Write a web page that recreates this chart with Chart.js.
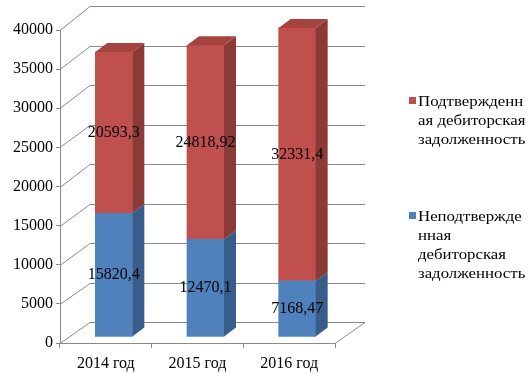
<!DOCTYPE html>
<html><head><meta charset="utf-8"><script src="https://cdn.jsdelivr.net/npm/chart.js@4"></script></head>
<body style="margin:0;background:#fff">
<canvas id="c" width="532" height="374"></canvas>
<script>
const categories = ['2014 год', '2015 год', '2016 год'];
const unconfirmed = [15820.4, 12470.1, 7168.47];
const confirmed = [20593.3, 24818.92, 32331.4];
const seriesNames = ['Неподтвержденная дебиторская задолженность', 'Подтвержденная дебиторская задолженность'];
const legendLines = [
  ['Подтвержденн', 'ая дебиторская', 'задолженность'],
  ['Неподтвержде', 'нная', 'дебиторская', 'задолженность']
];
const yTicks = [0, 5000, 10000, 15000, 20000, 25000, 30000, 35000, 40000];

const FRONT = ['#4F81BD', '#C0504D'];
const SIDE = ['#385D8A', '#8C3A37'];
const TOPC = ['#4572A7', '#A5433F'];
const GRID = '#8A8A8A';
const SERIF = "'Liberation Serif', serif";

const shift = {x: 8, y: -6};
const bar3d = {x: 12, y: -9};
const wall = {x: 30, yTop: -24, yBot: -21};

function fmt(v) { return String(v).replace('.', ','); }

const threeD = {
  id: 'threeD',
  beforeDatasetsDraw(chart) {
    const ctx = chart.ctx, ys = chart.scales.y, a = chart.chartArea;
    const bt = a.top + wall.yTop, bb = a.bottom + wall.yBot;
    const backY = v => bb + (ys.getPixelForValue(v) - a.bottom) * (bb - bt) / (a.bottom - a.top);
    ctx.save();
    ctx.strokeStyle = GRID;
    ctx.lineWidth = 1;
    ctx.beginPath();
    yTicks.forEach(v => {
      const fy = Math.round(ys.getPixelForValue(v)) + 0.5;
      const by = Math.round(backY(v)) + 0.5;
      ctx.moveTo(a.left, fy);
      ctx.lineTo(a.left + wall.x, by);
      ctx.lineTo(a.right + wall.x, by);
    });
    ctx.moveTo(a.right, Math.round(a.bottom) + 0.5);
    ctx.lineTo(a.right + wall.x, Math.round(bb) + 0.5);
    ctx.stroke();
    ctx.restore();
    ctx.save();
    ctx.translate(shift.x, shift.y);
  },
  afterDatasetsDraw(chart) {
    const ctx = chart.ctx;
    ctx.restore();
    ctx.save();
    const nSets = chart.data.datasets.length;
    for (let d = 0; d < nSets; d++) {
      const meta = chart.getDatasetMeta(d);
      meta.data.forEach((el) => {
        const p = el.getProps(['x', 'y', 'base', 'width'], true);
        const xl = p.x - p.width / 2 + shift.x, xr = p.x + p.width / 2 + shift.x;
        const yt = p.y + shift.y, yb = p.base + shift.y;
        ctx.fillStyle = SIDE[d];
        ctx.beginPath();
        ctx.moveTo(xr, yb);
        ctx.lineTo(xr + bar3d.x, yb + bar3d.y);
        ctx.lineTo(xr + bar3d.x, yt + bar3d.y);
        ctx.lineTo(xr, yt);
        ctx.closePath();
        ctx.fill();
        if (d === nSets - 1) {
          ctx.fillStyle = TOPC[d];
          ctx.beginPath();
          ctx.moveTo(xl, yt);
          ctx.lineTo(xl + bar3d.x, yt + bar3d.y);
          ctx.lineTo(xr + bar3d.x, yt + bar3d.y);
          ctx.lineTo(xr, yt);
          ctx.closePath();
          ctx.fill();
        }
      });
    }
    ctx.fillStyle = '#000';
    ctx.font = "16px 'Liberation Serif', serif";
    ctx.textAlign = 'center';
    ctx.textBaseline = 'middle';
    for (let d = 0; d < nSets; d++) {
      const meta = chart.getDatasetMeta(d);
      meta.data.forEach((el, i) => {
        const p = el.getProps(['x', 'y', 'base'], true);
        ctx.fillText(fmt(chart.data.datasets[d].data[i]), p.x + shift.x, (p.y + p.base) / 2 + shift.y);
      });
    }
    ctx.restore();
  },
  afterDraw(chart) {
    const ctx = chart.ctx;
    ctx.save();
    const entries = [
      {color: FRONT[1], lines: legendLines[0], sq: 97, y0: 102},
      {color: FRONT[0], lines: legendLines[1], sq: 212, y0: 217}
    ];
    entries.forEach(e => {
      ctx.fillStyle = e.color;
      ctx.fillRect(409, e.sq, 7, 7);
      ctx.fillStyle = '#000';
      ctx.font = "14px 'Liberation Serif', serif";
      ctx.textAlign = 'left';
      ctx.textBaseline = 'middle';
      e.lines.forEach((t, k) => {
        ctx.save();
        ctx.translate(418, e.y0 + k * 19);
        ctx.scale(1.2, 1);
        ctx.fillText(t, 0, 0);
        ctx.restore();
      });
    });
    ctx.restore();
  }
};

new Chart(document.getElementById('c'), {
  type: 'bar',
  data: {
    labels: categories,
    datasets: [
      {label: seriesNames[0], data: unconfirmed, backgroundColor: FRONT[0], borderWidth: 0, barThickness: 37},
      {label: seriesNames[1], data: confirmed, backgroundColor: FRONT[1], borderWidth: 0, barThickness: 37}
    ]
  },
  options: {
    responsive: false,
    animation: false,
    events: [],
    layout: {padding: {left: 0, right: 197, top: 30, bottom: 0}},
    plugins: {legend: {display: false}, tooltip: {enabled: false}},
    scales: {
      x: {
        stacked: true,
        grid: {drawOnChartArea: false, tickLength: 5, tickColor: GRID, offset: true},
        border: {color: GRID},
        ticks: {color: '#000', font: {family: SERIF, size: 16}, padding: 6},
        afterFit(s) { s.height = 31; }
      },
      y: {
        stacked: true,
        min: 0, max: 40000,
        grid: {drawOnChartArea: false, tickLength: 4, tickColor: GRID},
        border: {color: GRID},
        ticks: {stepSize: 5000, color: '#000', font: {family: SERIF, size: 16}, padding: 3,
                callback: v => String(v)},
        afterFit(s) { s.width = 60; }
      }
    }
  },
  plugins: [threeD]
});
</script></body></html>
